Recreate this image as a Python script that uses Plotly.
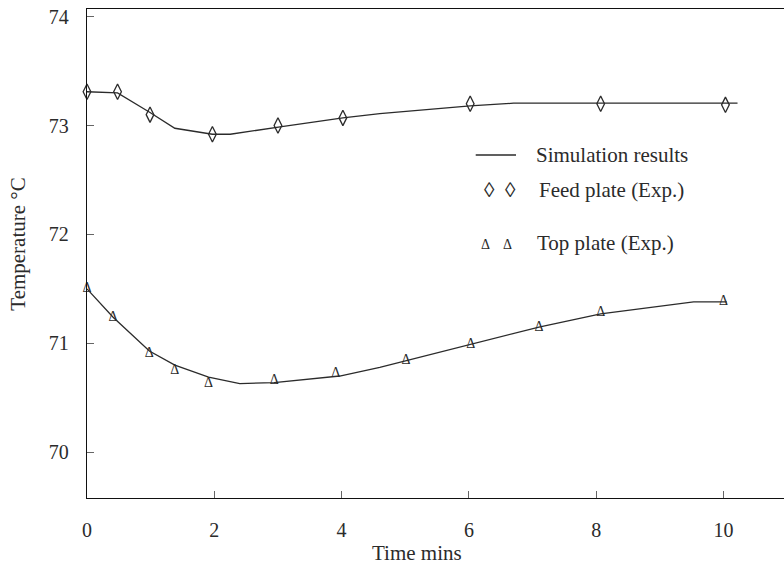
import plotly.graph_objects as go

# Experimental measurements (time in minutes, temperature in °C)
feed_time = [0, 0.48, 0.99, 1.97, 3.0, 4.02, 6.02, 8.07, 10.03]
feed_temp = [73.31, 73.31, 73.10, 72.92, 73.00, 73.07, 73.20, 73.20, 73.19]

top_time = [0, 0.41, 0.98, 1.38, 1.91, 2.94, 3.91, 5.01, 6.03, 7.10, 8.07, 10.0]
top_temp = [71.50, 71.24, 70.91, 70.75, 70.63, 70.66, 70.72, 70.84, 70.99, 71.15, 71.28, 71.38]

# Simulation curves
sim_feed_time = [0, 0.48, 0.99, 1.38, 1.97, 2.25, 3.06, 3.29, 4.02, 4.6, 6.02, 6.7, 8.07, 8.69, 10.22]
sim_feed_temp = [73.31, 73.30, 73.12, 72.975, 72.92, 72.92, 72.99, 73.01, 73.07, 73.11, 73.18, 73.205, 73.205, 73.20, 73.205]

sim_top_time = [0, 0.41, 0.98, 1.38, 1.91, 2.40, 2.94, 3.45, 3.97, 4.60, 5.01, 6.03, 7.10, 8.07, 9.53, 10.05]
sim_top_temp = [71.50, 71.24, 70.93, 70.80, 70.69, 70.63, 70.64, 70.67, 70.70, 70.78, 70.84, 70.99, 71.15, 71.27, 71.38, 71.38]

x_ticks = [0, 2, 4, 6, 8, 10]
y_ticks = [70, 71, 72, 73, 74]

FONT = "Liberation Serif, Times New Roman, serif"
INK = "#2b2b2b"

fig = go.Figure()

fig.add_trace(go.Scatter(x=sim_feed_time, y=sim_feed_temp, mode="lines",
                         line=dict(color=INK, width=1.3), cliponaxis=False,
                         showlegend=False))
fig.add_trace(go.Scatter(x=sim_top_time, y=sim_top_temp, mode="lines",
                         line=dict(color=INK, width=1.3), cliponaxis=False,
                         showlegend=False))
fig.add_trace(go.Scatter(x=feed_time, y=feed_temp, mode="markers",
                         marker=dict(symbol="diamond-tall-open", size=11,
                                     color=INK, line=dict(color=INK, width=1.3)),
                         cliponaxis=False, showlegend=False))
fig.add_trace(go.Scatter(x=top_time, y=top_temp, mode="text",
                         text=["Δ"] * len(top_time), textposition="middle center",
                         textfont=dict(family=FONT, size=14, color=INK),
                         cliponaxis=False, showlegend=False))

# Hand-placed key
fig.add_shape(type="line", xref="paper", yref="paper",
              x0=0.5577, x1=0.6155, y0=0.7014, y1=0.7014,
              line=dict(color=INK, width=1.3))
legend_text = dict(family=FONT, size=21, color=INK)
ann = [
    dict(x=0.6413, y=0.7014, text="Simulation results", xanchor="left", font=legend_text),
    dict(x=0.5768, y=0.6299, text="◊", xanchor="center", font=legend_text),
    dict(x=0.6079, y=0.6299, text="◊", xanchor="center", font=legend_text),
    dict(x=0.6461, y=0.6299, text="Feed plate (Exp.)", xanchor="left", font=legend_text),
    dict(x=0.5715, y=0.5194, text="Δ", xanchor="center", font=dict(family=FONT, size=14, color=INK)),
    dict(x=0.6040, y=0.5194, text="Δ", xanchor="center", font=dict(family=FONT, size=14, color=INK)),
    dict(x=0.6428, y=0.5220, text="Top plate (Exp.)", xanchor="left", font=legend_text),
    dict(x=0.474, y=-0.112, text="Time mins", xanchor="center", font=legend_text),
    dict(x=-0.099, y=0.520, text="Temperature °C", textangle=-90, xanchor="center",
         font=legend_text),
]
for a in ann:
    a.update(xref="paper", yref="paper", yanchor="middle", showarrow=False)
fig.update_layout(annotations=ann)

fig.update_xaxes(range=[0, 10.95], tickvals=x_ticks, ticktext=[str(v) for v in x_ticks],
                 showline=True, linecolor="#111", linewidth=1.3, mirror=True,
                 ticks="inside", ticklen=7, tickwidth=1, tickcolor="#666",
                 showgrid=False, zeroline=False, ticklabelstandoff=14,
                 tickfont=dict(family=FONT, size=20, color=INK))
fig.update_yaxes(range=[69.58, 74.07], tickvals=y_ticks,
                 showline=True, linecolor="#111", linewidth=1.3,
                 ticks="inside", ticklen=7, tickwidth=1, tickcolor="#666",
                 showgrid=False, zeroline=False, ticklabelstandoff=13,
                 tickfont=dict(family=FONT, size=20, color=INK))

fig.update_layout(width=784, height=566,
                  margin=dict(l=87, r=0, t=9, b=68),
                  paper_bgcolor="white", plot_bgcolor="white",
                  showlegend=False)

fig.write_html("out.html")
